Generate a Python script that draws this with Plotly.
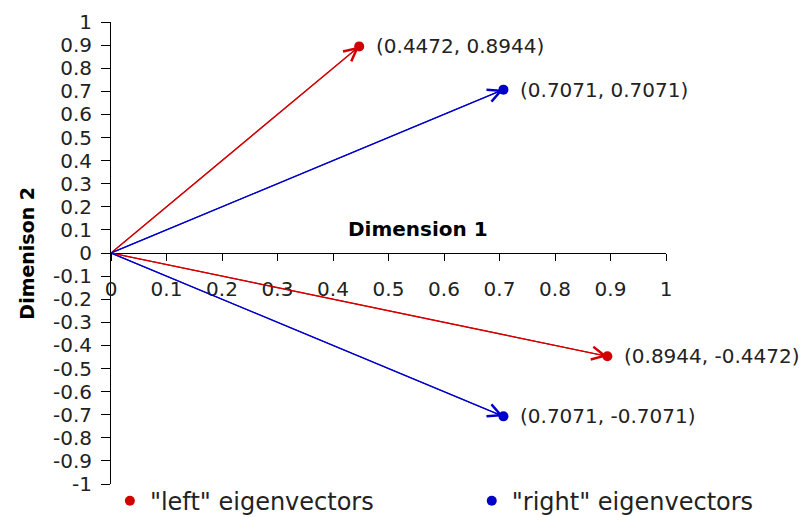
import plotly.graph_objects as go

# Data
left_x = [0.4472, 0.8944]
left_y = [0.8944, -0.4472]
right_x = [0.7071, 0.7071]
right_y = [0.7071, -0.7071]
series_names = ['"left" eigenvectors', '"right" eigenvectors']
x_ticks = [0, 0.1, 0.2, 0.3, 0.4, 0.5, 0.6, 0.7, 0.8, 0.9, 1]
y_ticks = [1, 0.9, 0.8, 0.7, 0.6, 0.5, 0.4, 0.3, 0.2, 0.1, 0, -0.1, -0.2, -0.3, -0.4,
           -0.5, -0.6, -0.7, -0.8, -0.9, -1]
x_title = "Dimension 1"
y_title = "Dimenison 2"

RED = "rgb(210,0,0)"
BLUE = "rgb(0,0,200)"
FONT = "DejaVu Sans, Arial, sans-serif"

fig = go.Figure()

def add_vectors(xs, ys, color, name, legend_id):
    lx, ly = [], []
    for vx, vy in zip(xs, ys):
        lx += [0, vx, None]
        ly += [0, vy, None]
    fig.add_trace(go.Scatter(
        x=lx, y=ly, mode="lines", showlegend=False, hoverinfo="skip",
        line=dict(color=color, width=1.3),
    ))
    fig.add_trace(go.Scatter(
        x=xs, y=ys, mode="markers", name=name, legend=legend_id,
        marker=dict(symbol="circle", size=10, color=color),
    ))
    for vx, vy in zip(xs, ys):
        # arrowhead along the vector
        fig.add_annotation(x=vx, y=vy, ax=0, ay=0, xref="x", yref="y", axref="x", ayref="y",
                           text="", showarrow=True, arrowhead=5, arrowsize=2.3,
                           arrowwidth=1.1, arrowcolor=color, standoff=0)
        fig.add_annotation(x=vx, y=vy, text=f"({vx:.4f}, {vy:.4f})", showarrow=False,
                           xanchor="left", yanchor="middle", xshift=15,
                           font=dict(family=FONT, size=20, color="#222"))

add_vectors(left_x, left_y, RED, series_names[0], "legend")
add_vectors(right_x, right_y, BLUE, series_names[1], "legend2")

fig.add_annotation(x=0.553, y=0.104, text=f"<b>{x_title}</b>", showarrow=False,
                   xanchor="center", yanchor="middle",
                   font=dict(family=FONT, size=20, color="black"))
fig.add_annotation(xref="paper", yref="paper", x=-0.152, y=0.5, text=f"<b>{y_title}</b>",
                   showarrow=False, textangle=-90, xanchor="center", yanchor="middle",
                   font=dict(family=FONT, size=19, color="black"))

leg_common = dict(orientation="h", yanchor="middle", y=-0.037, xanchor="left",
                  font=dict(family=FONT, size=24, color="#222"), bgcolor="rgba(0,0,0,0)")

fig.update_layout(
    width=802, height=509,
    margin=dict(l=103, r=144, t=14, b=33, autoexpand=False),
    paper_bgcolor="white", plot_bgcolor="white",
    font=dict(family=FONT, size=20, color="#222"),
    legend=dict(x=-0.002, **leg_common),
    legend2=dict(x=0.650, **leg_common),
    xaxis=dict(range=[0, 1], anchor="free", position=0.5, showline=True, linecolor="black",
               linewidth=1, ticks="outside", ticklen=7, tickcolor="black",
               tickvals=x_ticks, ticktext=[f"{v:g}" for v in x_ticks],
               ticklabelstandoff=11,
               showgrid=False, zeroline=False, tickfont=dict(size=20), automargin=False),
    yaxis=dict(range=[-1, 1], showline=True, linecolor="black", linewidth=1,
               ticks="outside", ticklen=9, tickcolor="black",
               tickvals=y_ticks, ticktext=[f"{v:g}" for v in y_ticks],
               ticklabelstandoff=5,
               showgrid=False, zeroline=False, tickfont=dict(size=20), automargin=False),
)

fig.write_html("out.html")
